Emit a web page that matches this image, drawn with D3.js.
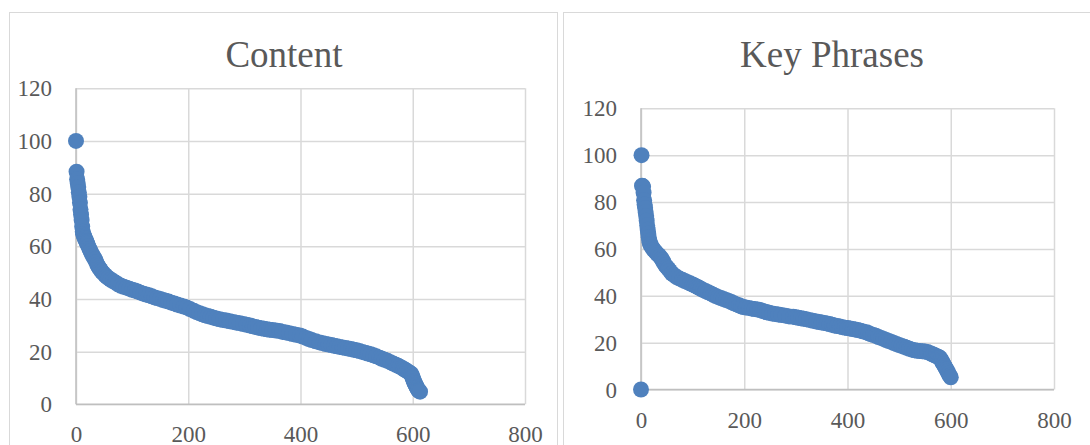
<!DOCTYPE html>
<html>
<head>
<meta charset="utf-8">
<script src="https://cdn.jsdelivr.net/npm/d3@7"></script>
<style>
  html, body { margin: 0; padding: 0; background: #ffffff; }
  svg { display: block; }
  .tick text { font-family: "Liberation Serif", "Times New Roman", serif; fill: #595959; }
</style>
</head>
<body>
<svg id="chart" width="1090" height="445"></svg>
<script>
// ---- Data ----
const titles = ["Content", "Key Phrases"];
const xTickValues = [0, 200, 400, 600, 800];
const yTickValues = [0, 20, 40, 60, 80, 100, 120];

const contentIndex = [0,1,2,3,4,5,6,7,8,9,10,11,12,13,14,15,16,17,18,19,20,22,24,26,28,30,32,34,36,38,40,42,44,46,49,52,55,58,62,66,70,75,80,85,90,95,100,105,110,115,120,125,130,135,140,145,150,155,160,165,170,175,180,186,192,197,203,210,215,220,225,230,235,240,245,250,256,262,268,274,280,286,292,298,304,310,315,320,325,330,335,340,345,350,356,363,368,374,380,386,392,399,404,410,415,420,427,434,440,445,450,455,460,465,470,475,480,485,490,495,500,505,510,515,520,525,530,535,541,545,550,555,560,565,570,574,577,581,584,587,590,593,595,597,598,599,600,601,602,603,604,605,606,607,608,609,610,611,613];
const contentValue = [100,88.3,85.5,84,82.5,80.5,78.8,76.5,74,72,70,67.5,65.5,64.6,64,63.5,63,62.5,62,61.5,61,60,59,58.2,57.2,56.4,55.7,55,54,53,52.3,51.6,51,50.4,49.7,49,48.4,47.9,47.3,46.8,46.3,45.6,45,44.6,44.3,43.9,43.5,43.2,42.8,42.4,42,41.7,41.4,41,40.6,40.3,40,39.6,39.3,39,38.6,38.3,37.9,37.5,37.1,36.8,36.2,35.5,35,34.6,34.2,33.8,33.5,33.2,32.9,32.6,32.3,32,31.8,31.5,31.3,31,30.8,30.5,30.2,29.9,29.6,29.4,29.1,28.9,28.7,28.5,28.3,28.2,28,27.8,27.5,27.3,27,26.7,26.4,26.1,25.7,25.2,24.8,24.4,23.9,23.5,23.2,22.9,22.7,22.5,22.2,22,21.8,21.6,21.4,21.2,21,20.7,20.5,20.2,19.9,19.6,19.3,19,18.6,18.2,17.7,17.3,16.9,16.5,16,15.5,15,14.6,14.3,13.8,13.4,13,12.6,12.2,11.9,11.5,11.2,10.5,10,9.4,8.8,8.3,7.9,7.4,7,6.5,6.1,5.7,5.4,5.1,4.8];

const keyIndex = [0,1,2,3,4,5,6,7,8,9,10,11,12,13,14,15,16,17,18,19,21,23,25,28,31,34,37,40,42,44,47,50,53,56,60,64,69,74,80,85,90,95,100,104,108,112,116,120,125,130,135,140,145,150,155,160,165,170,175,180,185,190,194,198,203,209,215,220,226,231,236,240,244,248,254,260,266,272,280,287,295,300,305,310,315,320,326,333,340,345,350,355,360,365,370,375,380,385,390,395,400,405,410,415,420,425,430,437,441,445,450,455,460,465,470,475,480,485,490,495,500,505,510,515,520,525,530,535,540,545,550,555,560,563,566,569,572,575,577,579,581,583,584,586,588,590,592,594,596,598,600];
const keyValue = [0,100,87,86.8,86.5,84,80.8,79,77.5,75.7,74,72,70,68.2,66.5,65,63.5,62.7,62,61.5,60.8,60.1,59.5,58.8,58,57.4,56.7,55.8,55,54.2,53,52.2,51.5,50.6,49.5,48.8,48,47.4,46.8,46.3,45.8,45.3,44.8,44.4,43.9,43.5,43,42.5,42,41.5,41,40.4,39.9,39.4,39,38.6,38.2,37.8,37.3,36.8,36.3,35.9,35.5,35.2,35,34.8,34.5,34.3,34.1,33.9,33.5,33.2,33,32.7,32.4,32.2,32,31.8,31.5,31.2,31,30.8,30.6,30.4,30.2,30,29.7,29.3,29,28.8,28.6,28.4,28.2,27.9,27.6,27.3,27.1,26.9,26.6,26.4,26.2,26,25.8,25.6,25.4,25.1,24.8,24.4,24,23.6,23.3,22.9,22.4,22,21.6,21.1,20.7,20.3,19.8,19.4,19,18.6,18.2,17.8,17.4,17,16.7,16.5,16.4,16.3,16.2,16,15.5,15.2,14.9,14.6,14.3,14,13.8,13.5,12.8,12.1,11.5,10.8,10,9.2,8.5,7.6,6.7,5.9,5.2];

// ---- Layout ----
const panels = [
  { title: titles[0], idx: contentIndex, val: contentValue,
    frame: [9.5, 12.5, 548, 460], plot: { x0: 76, x1: 525, y0: 404.3, y1: 88.3 }, titleX: 284, titleY: 67 },
  { title: titles[1], idx: keyIndex, val: keyValue,
    frame: [563.5, 12.5, 560, 460], plot: { x0: 641, x1: 1054, y0: 389.5, y1: 108.3 }, titleX: 832, titleY: 67 }
];

const svg = d3.select("#chart");
const blue = "#4f81bd";

panels.forEach(p => {
  const g = svg.append("g");
  g.append("rect")
    .attr("x", p.frame[0]).attr("y", p.frame[1])
    .attr("width", p.frame[2]).attr("height", p.frame[3])
    .attr("fill", "#fff").attr("stroke", "#d9d9d9").attr("stroke-width", 1);

  g.append("text")
    .attr("x", p.titleX).attr("y", p.titleY)
    .attr("text-anchor", "middle")
    .attr("font-family", "'Liberation Serif', 'Times New Roman', serif")
    .attr("font-size", 37)
    .attr("fill", "#595959")
    .text(p.title);

  const x = d3.scaleLinear().domain([0, 800]).range([p.plot.x0, p.plot.x1]);
  const y = d3.scaleLinear().domain([0, 120]).range([p.plot.y0, p.plot.y1]);
  const h = p.plot.y0 - p.plot.y1;
  const w = p.plot.x1 - p.plot.x0;

  const xAxis = g.append("g")
    .attr("transform", `translate(0,${p.plot.y0})`)
    .call(d3.axisBottom(x).tickValues(xTickValues).tickSize(-h).tickSizeOuter(0).tickPadding(0));
  xAxis.select(".domain").remove();
  xAxis.selectAll(".tick line").attr("stroke", "#d9d9d9").attr("stroke-width", 1.5);
  xAxis.selectAll(".tick text").attr("font-size", 23).attr("dy", null).attr("y", 38);

  const yAxis = g.append("g")
    .attr("transform", `translate(${p.plot.x0},0)`)
    .call(d3.axisLeft(y).tickValues(yTickValues).tickSize(-w).tickSizeOuter(0).tickPadding(0));
  yAxis.select(".domain").remove();
  yAxis.selectAll(".tick line").attr("stroke", "#d9d9d9").attr("stroke-width", 1.5);
  yAxis.selectAll(".tick text").attr("font-size", 23).attr("x", -24).attr("dy", "0.33em");

  g.append("line").attr("x1", p.plot.x0).attr("x2", p.plot.x1)
    .attr("y1", p.plot.y0).attr("y2", p.plot.y0)
    .attr("stroke", "#bfbfbf").attr("stroke-width", 1.5);
  g.append("line").attr("x1", p.plot.x0).attr("x2", p.plot.x0)
    .attr("y1", p.plot.y0).attr("y2", p.plot.y1)
    .attr("stroke", "#bfbfbf").attr("stroke-width", 1.5);

  const pts = p.idx.map((d, i) => ({ i: d, v: p.val[i] }));
  g.append("g").selectAll("circle").data(pts).join("circle")
    .attr("cx", d => x(d.i)).attr("cy", d => y(d.v))
    .attr("r", 8).attr("fill", blue);
});
</script>
</body>
</html>
